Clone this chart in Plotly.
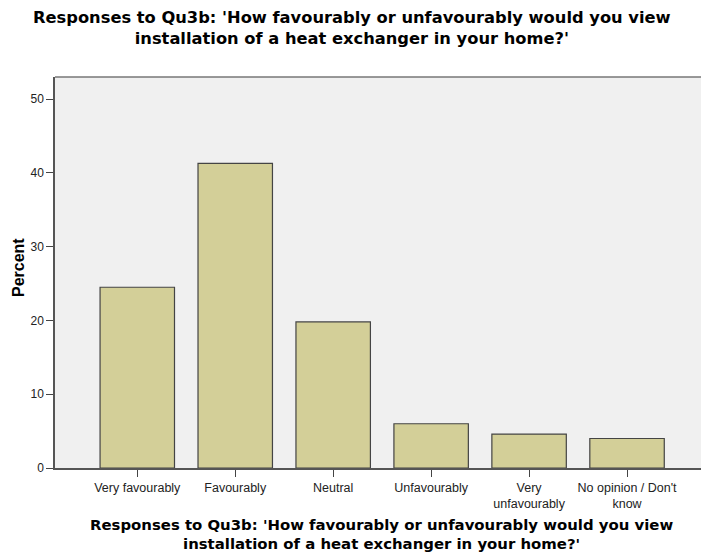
import plotly.graph_objects as go

categories = ["Very favourably", "Favourably", "Neutral", "Unfavourably",
              "Very<br>unfavourably", "No opinion / Don't<br>know"]
percent = [24.5, 41.3, 19.8, 6.0, 4.6, 4.0]
y_ticks = [0, 10, 20, 30, 40, 50]

title_line1 = "Responses to Qu3b: 'How favourably or unfavourably would you view"
title_line2 = "installation of a heat exchanger in your home?'"
title_text = "<b>" + title_line1 + "<br>" + title_line2 + "</b>"

fig = go.Figure(go.Bar(
    x=list(range(len(categories))), y=percent,
    width=0.76,
    marker=dict(color="#d3cf98", line=dict(color="#444444", width=1.2)),
    hoverinfo="skip",
))

font_family = "Liberation Sans, Arial, sans-serif"
title_family = "DejaVu Sans, Liberation Sans, sans-serif"

fig.update_layout(
    width=701, height=555,
    margin=dict(l=55, r=0, t=77, b=87, autoexpand=False),
    paper_bgcolor="white",
    plot_bgcolor="#f0f0f0",
    showlegend=False,
    font=dict(family=font_family, color="#000000"),
    xaxis=dict(
        range=[-0.84, 5.755],
        tickmode="array",
        tickvals=list(range(len(categories))),
        ticktext=categories,
        ticks="outside", ticklen=7, tickcolor="#444444",
        showline=True, linecolor="#555555", linewidth=1.5,
        showgrid=False, zeroline=False,
        tickfont=dict(size=12.5, color="#222222"),
    ),
    yaxis=dict(
        range=[0, 53],
        tickmode="array", tickvals=y_ticks,
        ticks="outside", ticklen=7, tickcolor="#444444",
        showline=True, linecolor="#555555", linewidth=1.5,
        showgrid=False, zeroline=False,
        tickfont=dict(size=12, color="#222222"),
    ),
    annotations=[
        dict(text=title_text, xref="paper", yref="paper",
             x=(351.5 - 55) / 646, y=1, yshift=49, xanchor="center", yanchor="middle",
             align="center", showarrow=False, font=dict(size=16.3, family=title_family)),
        dict(text=title_text, xref="paper", yref="paper",
             x=(381.5 - 55) / 646, y=0, yshift=-66, xanchor="center", yanchor="middle",
             align="center", showarrow=False, font=dict(size=14.9, family=title_family)),
        dict(text="<b>Percent</b>", xref="paper", yref="paper",
             x=0, xshift=-36.5, y=0.5, yshift=5, xanchor="center", yanchor="middle",
             textangle=-90, showarrow=False, font=dict(size=16)),
    ],
    shapes=[dict(type="line", xref="paper", yref="paper", x0=0, x1=1, y0=1, y1=1,
                 line=dict(color="#777777", width=1.5))],
)

fig.write_html(
    "out.html",
    config={"displayModeBar": False},
    post_script="document.body.style.margin='0';document.body.style.overflow='hidden';",
)
